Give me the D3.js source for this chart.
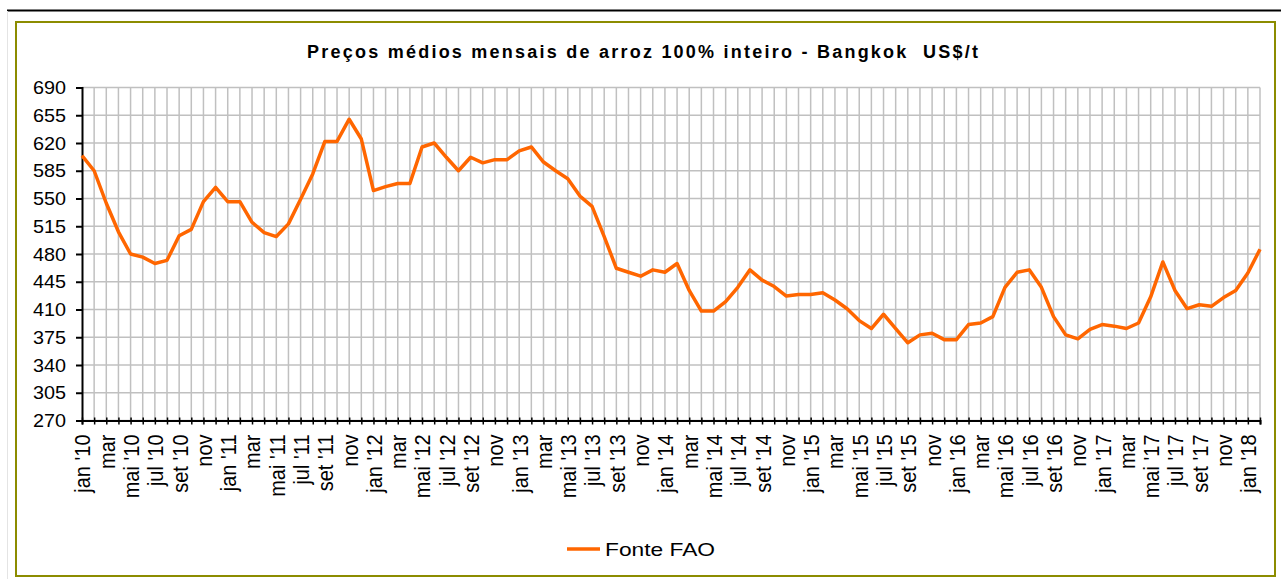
<!DOCTYPE html>
<html>
<head>
<meta charset="utf-8">
<script src="https://cdn.jsdelivr.net/npm/d3@7"></script>
<style>
  body { margin: 0; background: #fff; }
  svg text { font-family: "Liberation Sans", Arial, sans-serif; fill: #000; }
</style>
</head>
<body>
<svg id="chart" width="1281" height="579"></svg>
<script>
// month names used for the category labels (pt)
var monthNames = ["jan", "fev", "mar", "abr", "mai", "jun", "jul", "ago", "set", "out", "nov", "dez"];
var startYear = 2010;

// monthly prices, jan 2010 .. feb 2018 (US$/t)
var prices2010 = [604, 585, 544, 508, 480, 476, 468, 472, 503, 511, 546, 564];
var prices2011 = [546, 546, 520, 507, 502, 518, 549, 581, 622, 622, 650, 625];
var prices2012 = [560, 565, 569, 569, 615, 620, 602, 585, 602, 595, 599, 599];
var prices2013 = [610, 615, 596, 585, 575, 553, 540, 502, 462, 457, 452, 460];
var prices2014 = [457, 468, 434, 408, 408, 420, 438, 460, 447, 439, 427, 429];
var prices2015 = [429, 431, 422, 411, 396, 386, 404, 386, 368, 378, 380, 372];
var prices2016 = [372, 391, 393, 401, 438, 457, 460, 438, 401, 378, 373, 385];
var prices2017 = [391, 389, 386, 393, 426, 470, 434, 411, 416, 414, 425, 434];
var prices2018 = [456, 486];

var yTicks = [270, 305, 340, 375, 410, 445, 480, 515, 550, 585, 620, 655, 690];

var titleText = "Preços médios mensais de arroz 100% inteiro - Bangkok  US$/t";
var legendText = "Fonte FAO";

var values = [].concat(prices2010, prices2011, prices2012, prices2013, prices2014,
                       prices2015, prices2016, prices2017, prices2018);

// labels every 2 months, mar and nov without the year
var labels = values.map(function(v, i) {
    var m = i % 12, yr = startYear + Math.floor(i / 12);
    if (m % 2 == 1) return "";
    var name = monthNames[m];
    if (m == 2 || m == 10) return name;
    return name + " '" + String(yr).slice(2);
});

var svg = d3.select('#chart');

// frame
svg.append('line')
    .attr('x1', 7).attr('x2', 1281).attr('y1', 10.5).attr('y2', 10.5)
    .attr('stroke', '#000').attr('stroke-width', 2);
svg.append('line')
    .attr('x1', 7.5).attr('x2', 7.5).attr('y1', 11).attr('y2', 579)
    .attr('stroke', '#e4e4e4').attr('stroke-width', 1);
svg.append('rect')
    .attr('x', 16).attr('y', 22).attr('width', 1259).attr('height', 554)
    .attr('fill', '#fff').attr('stroke', '#8c8c00').attr('stroke-width', 2);

var plotLeft = 82, plotRight = 1260, plotTop = 87.5, plotBottom = 420.5;

var x = d3.scaleLinear().domain([0, values.length - 1]).range([plotLeft, plotRight]);
var y = d3.scaleLinear().domain([270, 690]).range([plotBottom, plotTop]);

// title
svg.append('text')
    .attr('x', 307).attr('y', 58)
    .attr('textLength', 671).attr('lengthAdjust', 'spacing')
    .style('white-space', 'pre')
    .style('font-size', '18px').style('font-weight', 'bold')
    .text(titleText);

// grid
var grid = svg.append('g');
grid.selectAll('.hgrid')
    .data(yTicks)
    .enter().append('line')
    .attr('class', 'hgrid')
    .attr('x1', plotLeft).attr('x2', plotRight)
    .attr('y1', function(d) { return y(d); })
    .attr('y2', function(d) { return y(d); })
    .attr('stroke', '#c0c0c0').attr('stroke-width', 1.5);
grid.selectAll('.vgrid')
    .data(d3.range(1, values.length))
    .enter().append('line')
    .attr('class', 'vgrid')
    .attr('x1', function(d) { return x(d); })
    .attr('x2', function(d) { return x(d); })
    .attr('y1', plotTop).attr('y2', plotBottom)
    .attr('stroke', '#c0c0c0').attr('stroke-width', 1.5);

// y axis
var yAxis = d3.axisLeft(y).tickValues(yTicks).tickSize(6).tickPadding(10);
var gy = svg.append('g').attr('transform', 'translate(' + plotLeft + ',0)').call(yAxis);
gy.select('.domain').attr('stroke', '#000').attr('stroke-width', 2);
gy.selectAll('.tick line').attr('stroke', '#000').attr('stroke-width', 2);
gy.selectAll('.tick text')
    .attr('font-family', null).attr('font-size', null)
    .style('font-size', '19px')
    .attr('textLength', 33).attr('lengthAdjust', 'spacingAndGlyphs');

// x axis
var xAxis = d3.axisBottom(x).tickValues(d3.range(values.length))
    .tickSize(4).tickFormat(function(i) { return labels[i]; });
var gx = svg.append('g').attr('transform', 'translate(0,' + plotBottom + ')').call(xAxis);
gx.select('.domain').attr('stroke', '#000').attr('stroke-width', 2);
gx.selectAll('.tick line').attr('stroke', '#000').attr('stroke-width', 1.5).attr('y1', -3);
gx.selectAll('.tick text')
    .attr('font-family', null).attr('font-size', null)
    .style('font-size', '20px')
    .attr('text-anchor', 'end')
    .attr('transform', 'rotate(-90) scale(1,1.1)')
    .attr('x', -14).attr('y', 0).attr('dy', '0.36em');

// price line
var line = d3.line()
    .x(function(d, i) { return x(i); })
    .y(function(d) { return y(d); });
svg.append('path')
    .datum(values)
    .attr('d', line)
    .attr('fill', 'none')
    .attr('stroke', '#ff6600')
    .attr('stroke-width', 3.5)
    .attr('stroke-linejoin', 'round');

// legend
svg.append('line')
    .attr('x1', 567).attr('x2', 600).attr('y1', 549).attr('y2', 549)
    .attr('stroke', '#ff6600').attr('stroke-width', 3.5);
svg.append('text')
    .attr('x', 605).attr('y', 556)
    .attr('textLength', 110).attr('lengthAdjust', 'spacingAndGlyphs')
    .style('font-size', '19px')
    .text(legendText);
</script>
</body>
</html>
